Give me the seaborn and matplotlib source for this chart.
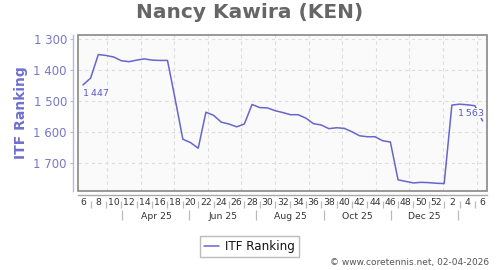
import numpy as np
import pandas as pd
import matplotlib
matplotlib.use("Agg")
import matplotlib.pyplot as plt
import matplotlib.dates as mdates
from matplotlib.patches import Rectangle
import seaborn as sns

# ---- data ----
start_date = "2025-02-07"
ranking = [1447, 1425, 1349, 1352, 1357, 1369, 1372, 1367, 1363, 1367,
           1368, 1368, 1493, 1622, 1633, 1651, 1535, 1545, 1567, 1573,
           1582, 1573, 1510, 1520, 1521, 1530, 1536, 1543, 1543, 1554,
           1572, 1576, 1588, 1585, 1587, 1598, 1611, 1614, 1614, 1627,
           1631, 1753, 1758, 1763, 1761, 1762, 1764, 1765, 1512, 1509,
           1511, 1514, 1563]
week_labels = ["6", "8", "10", "12", "14", "16", "18", "20", "22", "24", "26",
               "28", "30", "32", "34", "36", "38", "40", "42", "44", "46", "48",
               "50", "52", "2", "4", "6"]
month_labels = ["Apr 25", "Jun 25", "Aug 25", "Oct 25", "Dec 25"]
month_label_dates = ["2025-04-15", "2025-06-15", "2025-08-15", "2025-10-15", "2025-12-15"]
month_sep_dates = ["2025-03-15", "2025-05-15", "2025-07-15", "2025-09-15",
                   "2025-11-15", "2026-01-15"]
y_ticks = [1300, 1400, 1500, 1600, 1700]
title = "Nancy Kawira (KEN)"
series_name = "ITF Ranking"
credit = "\u00a9 www.coretennis.net, 02-04-2026"

dates = pd.date_range(start_date, periods=len(ranking), freq="7D")
df = pd.DataFrame({"date": dates, series_name: ranking})
xd = mdates.date2num(dates.to_pydatetime())

LINE = "#6666cc"
TICKC = "#7777cc"

sns.set_theme(style="white")
plt.rcParams["font.family"] = ["DejaVu Sans"]

fig = plt.figure(figsize=(5, 2.7), dpi=100)
W, H = 500, 270
L, R, T, B = 78, 487, 35, 190.7
ax = fig.add_axes([L / W, 1 - B / H, (R - L) / W, (B - T) / H])
ax.set_facecolor("#fafafa")

sns.lineplot(data=df, x="date", y=series_name, ax=ax, color=LINE,
             linewidth=1.1, label=series_name, zorder=3)

ax.set_xlim(xd[0] - 4.5, xd[-1] + 4)
ax.set_ylim(1788, 1286)
ax.set_xlabel("")
ax.set_ylabel("")

# y axis
ax.set_yticks(y_ticks)
ax.set_yticklabels([f"{v // 1000} {v % 1000:03d}" for v in y_ticks])
ax.tick_params(axis="y", which="major", length=2.4, width=0.8, color="#b8b8e6",
               labelcolor=TICKC, labelsize=8.5, pad=2, left=True)
for s in ["top", "right"]:
    ax.spines[s].set_visible(False)
ax.spines["left"].set_position(("outward", 3.6))
ax.spines["left"].set_color("#b8b8e6")
ax.spines["left"].set_linewidth(1.0)
ax.spines["bottom"].set_position(("outward", 2.9))
ax.spines["bottom"].set_color("#aaaaaa")
ax.spines["bottom"].set_linewidth(1.0)

# x axis: week labels
ax.set_xticks(xd[::2])
ax.set_xticklabels(week_labels)
ax.xaxis.set_minor_locator(mdates.MonthLocator())
ax.tick_params(axis="x", which="major", length=0, labelsize=6.7,
               labelcolor="#333333", pad=2.6, bottom=True)
ax.tick_params(axis="x", which="minor", length=0, bottom=True)

# grid
ax.grid(False)
ax.yaxis.grid(True, which="major", color="#dddddd", linestyle=(0, (3, 3)), linewidth=0.8)
ax.xaxis.grid(True, which="minor", color="#dddddd", linestyle=(0, (3, 3)), linewidth=0.8)
ax.set_axisbelow(True)

# frame
ax.add_patch(Rectangle((0, 0), 1, 1, transform=ax.transAxes, fill=False,
                       edgecolor="#888888", linewidth=1.2, clip_on=False, zorder=5))

# separators between week labels
sep = ax.secondary_xaxis((B - 200.7) / (B - T))
sep.set_xticks(xd[1::2])
sep.set_xticklabels([""] * len(xd[1::2]))
sep.tick_params(axis="x", which="major", direction="out", length=5.3, width=0.9,
                color="#bbbbbb")
sep.tick_params(axis="x", which="minor", length=0)
sep.spines["bottom"].set_visible(False)

# month row
mrow = ax.secondary_xaxis((B - 210) / (B - T))
mrow.set_xticks(mdates.date2num(pd.to_datetime(month_sep_dates).to_pydatetime()))
mrow.set_xticklabels([""] * len(month_sep_dates))
mrow.set_xticks(mdates.date2num(pd.to_datetime(month_label_dates).to_pydatetime()),
                minor=True)
mrow.set_xticklabels(month_labels, minor=True)
mrow.tick_params(axis="x", which="major", direction="out", length=7.2, width=0.9,
                 color="#bbbbbb")
mrow.tick_params(axis="x", which="minor", length=0, labelsize=6.7,
                 labelcolor="#333333", pad=1.2)
mrow.spines["bottom"].set_visible(False)

# value annotations
fmt = lambda v: f"{v // 1000}\u2009{v % 1000:03d}"
ax.annotate(fmt(ranking[0]), xy=(xd[0], ranking[0]), xytext=(0, -6.5),
            textcoords="offset points", ha="left", va="center", fontsize=6.8,
            color="#5b5bc8", zorder=6,
            bbox=dict(boxstyle="square,pad=0.05", fc="#fafafa", ec="none"))
ax.annotate(fmt(ranking[-1]), xy=(xd[-1], ranking[-1]), xytext=(0.8, 5.5),
            textcoords="offset points", ha="right", va="center", fontsize=6.8,
            color="#5b5bc8", zorder=6,
            bbox=dict(boxstyle="square,pad=0.05", fc="#fafafa", ec="none"))

# legend
ax.get_legend().remove()
handles, labels = ax.get_legend_handles_labels()
leg = fig.legend(handles, labels, loc="center", bbox_to_anchor=(0.499, 1 - 246.2 / H),
                 frameon=True, fancybox=False, edgecolor="#aaaaaa", fontsize=8.6,
                 handlelength=1.3, handletextpad=0.5, borderpad=0.35,
                 borderaxespad=0)
leg.get_frame().set_linewidth(1.0)
for t in leg.get_texts():
    t.set_color("#111111")

# titles and texts
fig.text(0.5, 1 - 13 / H, title, ha="center", va="center", fontsize=14.5,
         fontweight="bold", color="#666666")
fig.text(21 / W, 1 - 113 / H, series_name, ha="center", va="center", rotation=90,
         fontsize=10, fontweight="bold", color="#7070d0")
fig.text(489 / W, 1 - 263 / H, credit, ha="right", va="center", fontsize=6.5,
         color="#555555")

fig.savefig("out.png", dpi=100)
